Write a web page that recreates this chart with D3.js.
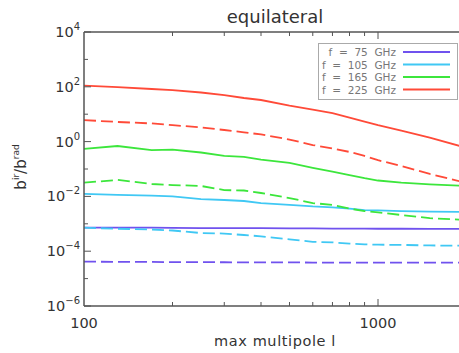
<!DOCTYPE html>
<html>
<head>
<meta charset="utf-8">
<script src="https://cdn.jsdelivr.net/npm/d3@7"></script>
<style>
  body { margin: 0; background: #fff; }
  svg { display: block; font-family: "DejaVu Sans", sans-serif; }
</style>
</head>
<body>
<svg id="chart" width="459" height="353"></svg>
<script>
// multipole values (x axis)
const ell = [100, 130, 170, 200, 250, 300, 350, 400, 500, 600, 700, 800, 900, 1000, 1200, 1500, 2000];

// b_ir / b_rad, solid and dashed for each frequency
const f75Solid  = [7.3e-4, 7.3e-4, 7.2e-4, 7.1e-4, 7.0e-4, 7.0e-4, 6.9e-4, 6.9e-4, 6.8e-4, 6.8e-4, 6.7e-4, 6.7e-4, 6.7e-4, 6.6e-4, 6.6e-4, 6.5e-4, 6.5e-4];
const f75Dash   = [4.15e-5, 4.1e-5, 4.05e-5, 4.0e-5, 4.0e-5, 3.95e-5, 3.9e-5, 3.9e-5, 3.9e-5, 3.85e-5, 3.85e-5, 3.8e-5, 3.8e-5, 3.8e-5, 3.8e-5, 3.8e-5, 3.8e-5];
const f105Solid = [0.0123, 0.0113, 0.0106, 0.0100, 0.0080, 0.0074, 0.0068, 0.0057, 0.0049, 0.0043, 0.0040, 0.0036, 0.00317, 0.0031, 0.0029, 0.00277, 0.0027];
const f105Dash  = [7.2e-4, 6.6e-4, 6.2e-4, 5.7e-4, 4.6e-4, 4.4e-4, 3.9e-4, 3.5e-4, 2.7e-4, 2.2e-4, 2.1e-4, 1.9e-4, 1.78e-4, 1.73e-4, 1.7e-4, 1.62e-4, 1.58e-4];
const f165Solid = [0.54, 0.69, 0.49, 0.51, 0.40, 0.30, 0.275, 0.22, 0.166, 0.11, 0.080, 0.060, 0.046, 0.038, 0.032, 0.0275, 0.024];
const f165Dash  = [0.0316, 0.040, 0.0284, 0.026, 0.024, 0.017, 0.0164, 0.0133, 0.0087, 0.0057, 0.0049, 0.0036, 0.0029, 0.0026, 0.0021, 0.0016, 0.00138];
const f225Solid = [110, 98, 83, 76, 62, 50, 39, 33, 20.7, 14.8, 11, 7.5, 5.4, 4.0, 2.5, 1.4, 0.59];
const f225Dash  = [6.1, 5.2, 4.6, 4.0, 3.3, 2.65, 2.19, 1.82, 1.19, 0.75, 0.56, 0.42, 0.30, 0.21, 0.128, 0.066, 0.031];

const legendLabels = ["f = 75 GHz", "f = 105 GHz", "f = 165 GHz", "f = 225 GHz"];
const colors = ["#7052ee", "#40c8f4", "#3ce63c", "#ff4a38"];
const yTickExp = [4, 2, 0, -2, -4, -6];
const xTickLabels = [100, 1000];

const series = [
  { values: f75Solid,  color: colors[0], dashed: false },
  { values: f75Dash,   color: colors[0], dashed: true },
  { values: f105Solid, color: colors[1], dashed: false },
  { values: f105Dash,  color: colors[1], dashed: true },
  { values: f165Solid, color: colors[2], dashed: false },
  { values: f165Dash,  color: colors[2], dashed: true },
  { values: f225Solid, color: colors[3], dashed: false },
  { values: f225Dash,  color: colors[3], dashed: true }
];

const svg = d3.select("#chart");
const margin = { top: 32, left: 84, bottom: 306 };
const axisColor = "#555";
const textColor = "#333";

// plot runs off the right edge of the picture, like the reference
const x = d3.scaleLog().domain([100, 2000]).range([margin.left, margin.left + 294 * Math.log10(20)]);
const y = d3.scaleLog().domain([1e-6, 1e4]).range([margin.bottom, margin.top]);

const line = d3.line()
  .x((d, i) => x(ell[i]))
  .y(d => y(d));

svg.selectAll("path.series")
  .data(series)
  .join("path")
  .attr("class", "series")
  .attr("fill", "none")
  .attr("stroke", d => d.color)
  .attr("stroke-width", 1.8)
  .attr("stroke-dasharray", d => d.dashed ? "12,5" : null)
  .attr("d", d => line(d.values));

// x ticks (bottom and top, pointing inward)
const xMinor = [200, 300, 400, 500, 600, 700, 800, 900, 2000];
[margin.bottom, margin.top].forEach((yy, k) => {
  const dir = k === 0 ? -1 : 1;
  svg.append("line")
    .attr("x1", margin.left).attr("x2", 470)
    .attr("y1", yy).attr("y2", yy)
    .attr("stroke", axisColor).attr("stroke-width", 1.5);
  svg.append("g").selectAll("line")
    .data(xMinor.concat([1000]))
    .join("line")
    .attr("x1", d => x(d)).attr("x2", d => x(d))
    .attr("y1", yy)
    .attr("y2", d => yy + dir * (d === 1000 ? 7 : 4))
    .attr("stroke", axisColor).attr("stroke-width", 1);
});

// y axis
svg.append("line")
  .attr("x1", margin.left).attr("x2", margin.left)
  .attr("y1", margin.top).attr("y2", margin.bottom)
  .attr("stroke", axisColor).attr("stroke-width", 1.5);

const yAllExp = d3.range(-6, 5);
svg.append("g").selectAll("line")
  .data(yAllExp)
  .join("line")
  .attr("x1", margin.left)
  .attr("x2", d => margin.left + (d % 2 === 0 ? 7 : 4))
  .attr("y1", d => y(Math.pow(10, d)))
  .attr("y2", d => y(Math.pow(10, d)))
  .attr("stroke", axisColor).attr("stroke-width", 1);

const yLab = svg.append("g").selectAll("text")
  .data(yTickExp)
  .join("text")
  .attr("x", 80)
  .attr("y", d => y(Math.pow(10, d)) + 5)
  .attr("text-anchor", "end")
  .attr("fill", textColor)
  .attr("font-size", 14.5);
yLab.append("tspan").text("10");
yLab.append("tspan")
  .attr("dy", -7)
  .attr("font-size", 10)
  .text(d => d < 0 ? "\u2212" + (-d) : d);

// x tick labels
svg.append("g").selectAll("text")
  .data(xTickLabels)
  .join("text")
  .attr("x", d => x(d))
  .attr("y", 328)
  .attr("text-anchor", "middle")
  .attr("fill", textColor)
  .attr("font-size", 14.5)
  .text(d => d);

// title and axis labels
svg.append("text")
  .attr("x", 275).attr("y", 23)
  .attr("text-anchor", "middle")
  .attr("fill", textColor)
  .attr("font-size", 18)
  .text("equilateral");

svg.append("text")
  .attr("x", 275).attr("y", 346)
  .attr("text-anchor", "middle")
  .attr("fill", textColor)
  .attr("font-size", 14.5)
  .attr("letter-spacing", 0.6)
  .text("max multipole l");

const yTitle = svg.append("text")
  .attr("transform", "translate(26,167) rotate(-90)")
  .attr("text-anchor", "middle")
  .attr("fill", textColor)
  .attr("font-size", 15);
yTitle.append("tspan").text("b");
yTitle.append("tspan").attr("dy", -7).attr("font-size", 9).text("ir");
yTitle.append("tspan").attr("dy", 7).text("/b");
yTitle.append("tspan").attr("dy", -7).attr("font-size", 9).text("rad");

// legend
const legend = svg.append("g");
legend.append("rect")
  .attr("x", 318.5).attr("y", 43.5)
  .attr("width", 139).attr("height", 56)
  .attr("fill", "#fff")
  .attr("stroke", "#aaa");

const rows = legend.selectAll("g.row")
  .data(legendLabels)
  .join("g")
  .attr("class", "row")
  .attr("transform", (d, i) => `translate(0, ${52 + i * 12.5})`);

rows.append("text")
  .attr("x", 396)
  .attr("y", 4)
  .attr("text-anchor", "end")
  .attr("fill", "#777")
  .attr("font-size", 10.5)
  .attr("xml:space", "preserve")
  .text(d => d.replace(/ /g, "  "));

rows.append("line")
  .attr("x1", 403).attr("x2", 450)
  .attr("y1", 0).attr("y2", 0)
  .attr("stroke", (d, i) => colors[i])
  .attr("stroke-width", 1.8);
</script>
</body>
</html>
